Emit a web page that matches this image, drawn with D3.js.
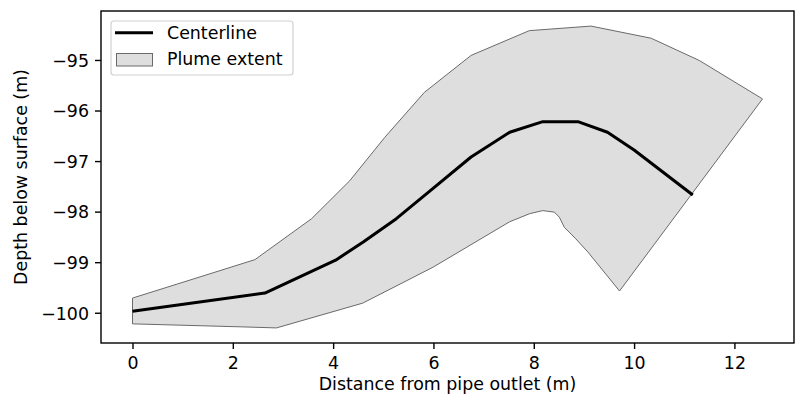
<!DOCTYPE html>
<html>
<head>
<meta charset="utf-8">
<script src="https://cdn.jsdelivr.net/npm/d3@7"></script>
<style>
  html, body { margin: 0; padding: 0; background: #fff; }
  svg { display: block; font-family: "DejaVu Sans", sans-serif; }
</style>
</head>
<body>
<svg id="chart" width="795" height="394"></svg>
<script>
// ---- Data ----
const centerX = [0, 2.64, 4.05, 4.6, 5.26, 5.92, 6.75, 7.52, 8.18, 8.88, 9.47, 10.0, 11.17];
const centerY = [-99.97, -99.61, -98.96, -98.6, -98.14, -97.6, -96.92, -96.43, -96.22, -96.22, -96.43, -96.78, -97.67];

const upperX = [0, 2.44, 3.57, 4.33, 5.03, 5.82, 6.75, 7.91, 9.14, 10.34, 11.30, 12.56];
const upperY = [-99.71, -98.95, -98.14, -97.39, -96.53, -95.64, -94.91, -94.42, -94.33, -94.57, -95.01, -95.77];

const lowerX = [0, 2.2, 2.87, 4.59, 5.99, 7.52, 7.92, 8.18, 8.41, 8.51, 8.61, 8.84, 9.08, 9.71];
const lowerY = [-100.22, -100.28, -100.30, -99.81, -99.10, -98.20, -98.04, -97.98, -98.01, -98.11, -98.31, -98.54, -98.80, -99.57];

const xTicks = [0, 2, 4, 6, 8, 10, 12];
const yTicks = [-100, -99, -98, -97, -96, -95];

const xLabel = "Distance from pipe outlet (m)";
const yLabel = "Depth below surface (m)";
const legendLabels = ["Centerline", "Plume extent"];

// ---- Layout ----
const svg = d3.select("#chart");
const plot = { left: 101, right: 794, top: 11, bottom: 343 };
const fs = 17.4;

function padded(vals) {
  const [a, b] = d3.extent(vals);
  const p = (b - a) * 0.05;
  return [a - p, b + p];
}
const x = d3.scaleLinear()
  .domain(padded([...upperX, ...lowerX, ...centerX]))
  .range([plot.left, plot.right]);
const y = d3.scaleLinear()
  .domain(padded([...upperY, ...lowerY, ...centerY]))
  .range([plot.bottom, plot.top]);

const clip = svg.append("clipPath").attr("id", "clip")
  .append("rect")
  .attr("x", plot.left).attr("y", plot.top)
  .attr("width", plot.right - plot.left).attr("height", plot.bottom - plot.top);

const g = svg.append("g").attr("clip-path", "url(#clip)");

// Plume polygon
const upperPts = upperX.map((v, i) => [x(v), y(upperY[i])]);
const lowerPts = lowerX.map((v, i) => [x(v), y(lowerY[i])]).reverse();
const poly = upperPts.concat(lowerPts);
g.append("path")
  .attr("d", "M" + poly.map(p => p.join(",")).join("L") + "Z")
  .attr("fill", "#dedede")
  .attr("stroke", "#6a6a6a")
  .attr("stroke-width", 1)
  .attr("stroke-linejoin", "round");

// Centerline
const line = d3.line().x((d, i) => x(centerX[i])).y((d, i) => y(centerY[i]));
g.append("path")
  .attr("d", line(centerX))
  .attr("fill", "none")
  .attr("stroke", "#000")
  .attr("stroke-width", 3)
  .attr("stroke-linejoin", "round");

// Axes
const fmt = d => (d < 0 ? "\u2212" + Math.abs(d) : String(d));
const xAxis = d3.axisBottom(x).tickValues(xTicks).tickFormat(fmt).tickSize(6).tickPadding(6);
const yAxis = d3.axisLeft(y).tickValues(yTicks).tickFormat(fmt).tickSize(6).tickPadding(6);

const gx = svg.append("g").attr("transform", `translate(0,${plot.bottom})`).call(xAxis);
const gy = svg.append("g").attr("transform", `translate(${plot.left},0)`).call(yAxis);
[gx, gy].forEach(a => {
  a.select(".domain").remove();
  a.selectAll(".tick line").attr("stroke", "#000").attr("stroke-width", 1.4);
  a.selectAll(".tick text").attr("fill", "#000").attr("font-size", fs)
    .attr("font-family", "DejaVu Sans, sans-serif");
});
gx.selectAll(".tick text").attr("dy", null).attr("y", 25.5);
gy.selectAll(".tick text").attr("dy", "0.36em").attr("x", -12);

// Frame
svg.append("rect")
  .attr("x", plot.left).attr("y", plot.top)
  .attr("width", plot.right - plot.left).attr("height", plot.bottom - plot.top)
  .attr("fill", "none").attr("stroke", "#000").attr("stroke-width", 1.4);

// Axis labels
svg.append("text")
  .attr("x", (plot.left + plot.right) / 2).attr("y", 390)
  .attr("text-anchor", "middle").attr("font-size", fs).attr("fill", "#000")
  .text(xLabel);
svg.append("text")
  .attr("transform", `translate(27,${(plot.top + plot.bottom) / 2}) rotate(-90)`)
  .attr("text-anchor", "middle").attr("font-size", fs).attr("fill", "#000")
  .text(yLabel);

// Legend
const lg = svg.append("g");
lg.append("rect")
  .attr("x", 111).attr("y", 21).attr("width", 182).attr("height", 54)
  .attr("rx", 3).attr("fill", "#fff").attr("fill-opacity", 0.8)
  .attr("stroke", "#d0d0d0").attr("stroke-width", 1.2);
lg.append("line")
  .attr("x1", 115).attr("x2", 153).attr("y1", 32.7).attr("y2", 32.7)
  .attr("stroke", "#000").attr("stroke-width", 3);
lg.append("rect")
  .attr("x", 116.5).attr("y", 53.5).attr("width", 36).attr("height", 12.5)
  .attr("fill", "#dedede").attr("stroke", "#6a6a6a").attr("stroke-width", 1);
lg.append("text").attr("x", 167).attr("y", 39.3).attr("font-size", fs).attr("fill", "#000").text(legendLabels[0]);
lg.append("text").attr("x", 167).attr("y", 65.3).attr("font-size", fs).attr("fill", "#000").text(legendLabels[1]);
</script>
</body>
</html>
